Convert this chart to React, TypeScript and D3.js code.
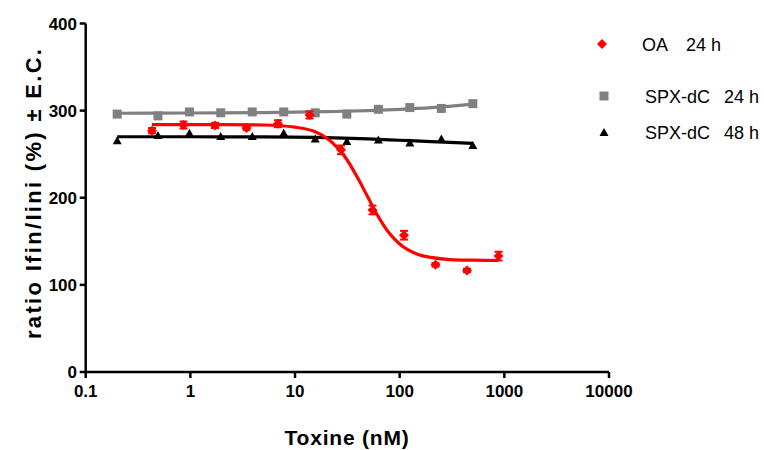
import React from "react";
import * as d3 from "d3";

// ---- data ----
const oaConc = [0.43, 0.86, 1.72, 3.44, 6.875, 13.75, 27.5, 55, 110, 220, 440, 880];
const oaVal = [277, 283.5, 283, 280, 285, 295, 255, 186, 157, 123, 116.5, 133];
const oaErr = [3, 4, 3, 2, 4, 4, 5, 5, 5, 2, 2, 5];

const spxConc = [0.2, 0.49, 0.98, 1.95, 3.9, 7.8, 15.6, 31.25, 62.5, 125, 250, 500];
const spx24Val = [296, 294, 298.5, 297.5, 298.5, 298.5, 297.5, 296, 301.5, 303.5, 302.5, 308];
const spx48Val = [266, 272, 274.5, 271, 271, 274.5, 268, 265, 267, 263.5, 268, 260.5];

// fitted curves
const oaFitConc = [0.43, 2, 5, 10, 15, 20, 25, 30, 40, 50, 60, 80, 100, 150, 200, 300, 500, 880];
const oaFitVal = [284, 284, 283.5, 281, 276.5, 268.5, 258.5, 247, 222, 200, 182, 159, 147, 135, 131.5, 129, 128.3, 128];
const spxFitConc = [0.2, 1, 5, 20, 50, 100, 200, 500];
const spx24FitVal = [297, 297.3, 297.8, 298.8, 300, 301.5, 303.5, 307.5];
const spx48FitVal = [270, 270, 269.8, 269, 267.5, 266, 264.5, 262.5];

const xTicks = [0.1, 1, 10, 100, 1000, 10000];
const xTickLabels = ["0.1", "1", "10", "100", "1000", "10000"];
const yTicks = [0, 100, 200, 300, 400];

const legendNames = ["OA", "SPX-dC", "SPX-dC"];
const legendTimes = ["24 h", "24 h", "48 h"];

const RED = "#ff0000";
const GRAY = "#808080";
const BLACK = "#000000";
const FONT = "'Liberation Sans', Arial, Helvetica, sans-serif";

export default function App() {
  const x = d3.scaleLog().domain([0.1, 10000]).range([85.7, 609]);
  const y = d3.scaleLinear().domain([0, 400]).range([372, 23.5]);

  const line = d3
    .line<[number, number]>()
    .x((d) => x(d[0]))
    .y((d) => y(d[1]))
    .curve(d3.curveMonotoneX);

  const oaFit = line(oaFitConc.map((c, i) => [c, oaFitVal[i]]))!;
  const s24Fit = line(spxFitConc.map((c, i) => [c, spx24FitVal[i]]))!;
  const s48Fit = line(spxFitConc.map((c, i) => [c, spx48FitVal[i]]))!;

  const diamond = (cx: number, cy: number, r = 5) =>
    `M${cx},${cy - r}L${cx + r},${cy}L${cx},${cy + r}L${cx - r},${cy}Z`;
  const triangle = (cx: number, cy: number, w = 9, h = 8) =>
    `M${cx},${cy - h / 2}L${cx + w / 2},${cy + h / 2}L${cx - w / 2},${cy + h / 2}Z`;

  const legendY = [44, 96, 132];

  return (
    <svg
      width={764}
      height={450}
      style={{ position: "absolute", left: 0, top: 0, background: "#fff" }}
      fontFamily={FONT}
    >
      <rect width={764} height={450} fill="#fff" />

      {/* curves */}
      <path d={s24Fit} fill="none" stroke={GRAY} strokeWidth={3.2} />
      <path d={s48Fit} fill="none" stroke={BLACK} strokeWidth={3.2} />
      <path d={oaFit} fill="none" stroke={RED} strokeWidth={3.2} />

      {/* SPX-dC 24 h squares */}
      {spxConc.map((c, i) => (
        <rect key={"g" + i} x={x(c) - 4.5} y={y(spx24Val[i]) - 4.5} width={9} height={9} fill={GRAY} />
      ))}
      {/* SPX-dC 48 h triangles */}
      {spxConc.map((c, i) => (
        <path key={"b" + i} d={triangle(x(c), y(spx48Val[i]))} fill={BLACK} />
      ))}
      {/* OA diamonds with error bars */}
      {oaConc.map((c, i) => {
        const cx = x(c);
        const top = y(oaVal[i] + oaErr[i]);
        const bot = y(oaVal[i] - oaErr[i]);
        return (
          <g key={"r" + i}>
            <line x1={cx} x2={cx} y1={top} y2={bot} stroke={RED} strokeWidth={2} />
            <line x1={cx - 4} x2={cx + 4} y1={top} y2={top} stroke={RED} strokeWidth={2} />
            <line x1={cx - 4} x2={cx + 4} y1={bot} y2={bot} stroke={RED} strokeWidth={2} />
            <path d={diamond(cx, y(oaVal[i]))} fill={RED} />
          </g>
        );
      })}

      {/* axes */}
      <line x1={x(0.1)} x2={x(10000)} y1={y(0)} y2={y(0)} stroke="#000" strokeWidth={2.5} />
      <line x1={x(0.1)} x2={x(0.1)} y1={y(0) + 1.25} y2={y(400)} stroke="#000" strokeWidth={2.5} />
      {xTicks.map((t, i) => (
        <g key={"xt" + i}>
          <line x1={x(t)} x2={x(t)} y1={y(0)} y2={y(0) + 6} stroke="#000" strokeWidth={2.5} />
          <text x={x(t)} y={397} textAnchor="middle" fontSize={17} fontWeight="bold">
            {xTickLabels[i]}
          </text>
        </g>
      ))}
      {yTicks.map((t, i) => (
        <g key={"yt" + i}>
          <line x1={x(0.1) - 6} x2={x(0.1)} y1={y(t)} y2={y(t)} stroke="#000" strokeWidth={2.5} />
          <text x={77} y={y(t) + 6} textAnchor="end" fontSize={17} fontWeight="bold">
            {t}
          </text>
        </g>
      ))}

      {/* axis titles */}
      <text x={347} y={445} textAnchor="middle" fontSize={21} fontWeight="bold" letterSpacing={0.8}>
        Toxine (nM)
      </text>
      <text
        transform="translate(41,194) rotate(-90)"
        textAnchor="middle"
        fontSize={22}
        fontWeight="bold"
        textLength={290}
        lengthAdjust="spacing"
      >
        ratio Ifin/Iini (%) ± E.C.
      </text>

      {/* legend */}
      <path d={diamond(602, legendY[0], 5)} fill={RED} />
      <rect x={599.5} y={legendY[1] - 4.5} width={9} height={9} fill={GRAY} />
      <path d={triangle(604, legendY[2])} fill={BLACK} />
      {legendNames.map((n, i) => (
        <g key={"lg" + i} fontSize={18}>
          <text x={i === 0 ? 642 : 645} y={legendY[i] + 6.5}>{n}</text>
          <text x={i === 0 ? 686 : 724} y={legendY[i] + 6.5}>{legendTimes[i]}</text>
        </g>
      ))}
    </svg>
  );
}
